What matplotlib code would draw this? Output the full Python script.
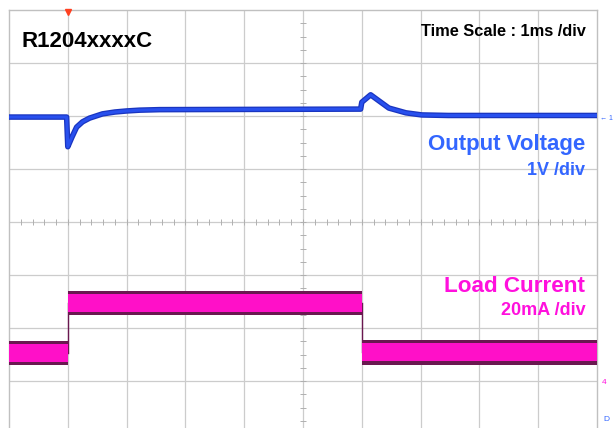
import matplotlib.pyplot as plt
import numpy as np

# Scope screen: 10 x 8 divisions, time in ms (1 ms/div), traces in divisions
# Output voltage trace
volt_t = [0.0, 0.98, 1.0, 1.07, 1.15, 1.25, 1.37, 1.59, 1.80, 2.0, 2.22, 2.56,
          5.98, 6.0, 6.15, 6.46, 6.75, 7.02, 7.47, 10.0]
volt_v = [1.98, 1.98, 1.42, 1.60, 1.79, 1.89, 1.96, 2.04, 2.075, 2.095, 2.11, 2.12,
          2.13, 2.26, 2.40, 2.15, 2.06, 2.02, 2.01, 2.01]

# Load current steps: edges and level per segment (divisions)
cur_edges = [0.0, 1.0, 6.0, 10.0]
cur_level = [-2.47, -1.53, -2.46]
cur_half = 0.23   # half height of noise band
core_half = 0.17

blue_txt = '#3366ff'
mag_txt = '#ff10dd'

plt.rcParams['font.family'] = ['Liberation Sans', 'DejaVu Sans']

fig = plt.figure(figsize=(6.14, 4.28), dpi=100)
ax = fig.add_axes([9 / 614, -6 / 428, 588 / 614, 424 / 428])
ax.set_xlim(0, 10)
ax.set_ylim(-4, 4)

# grid
for gx in range(1, 10):
    ax.axvline(gx, color='#cccccc', lw=0.9, zorder=0)
for gy in range(-3, 4):
    ax.axhline(gy, color='#cccccc', lw=0.9, zorder=0)
for s in ax.spines.values():
    s.set_color('#c0c0c0')
    s.set_linewidth(1.0)
ax.set_xticks([])
ax.set_yticks([])

# minor ticks on the centre cross
mx = np.arange(0, 10.01, 0.2)
my = np.arange(-4, 4.01, 0.25)
ax.plot(mx, np.zeros_like(mx), ls='none', marker='|', ms=4, mew=0.7, color='#b0b0b0', zorder=1)
ax.plot(np.full_like(my, 5.0), my, ls='none', marker='_', ms=4, mew=0.7, color='#b0b0b0', zorder=1)

# output voltage trace
ax.plot(volt_t, volt_v, color='#1a35c0', lw=4.0, solid_joinstyle='round', solid_capstyle='butt', zorder=3)
ax.plot(volt_t, volt_v, color='#2850ee', lw=2.2, solid_joinstyle='round', solid_capstyle='butt', zorder=4)

# load current trace
for i in range(len(cur_level)):
    xs = [cur_edges[i], cur_edges[i + 1]]
    lv = cur_level[i]
    ax.fill_between(xs, lv - cur_half, lv + cur_half, color='#6a1850', lw=0, zorder=3)
    ax.fill_between(xs, lv - core_half, lv + core_half, color='#ff10c8', lw=0, zorder=4)
for i in range(1, len(cur_level)):
    ax.plot([cur_edges[i], cur_edges[i]], [cur_level[i - 1], cur_level[i]],
            color='#6a1850', lw=1.0, zorder=3)

# trigger marker and channel markers
ax.plot([1.0], [3.97], marker='v', ms=5, color='#ff4020', clip_on=False, zorder=5)
ax.text(10.05, volt_v[-1] - 0.05, '← 1', color=blue_txt, fontsize=5, va='center', ha='left', clip_on=False)
ax.text(10.08, -3.03, '4', color=mag_txt, fontsize=6, va='center', ha='left', clip_on=False)
ax.text(10.1, -3.72, 'D', color=blue_txt, fontsize=6, va='center', ha='left', clip_on=False)

# labels
ax.text(0.22, 3.4, 'R1204xxxxC', fontsize=16, fontweight='bold', color='black', va='center', ha='left')
ax.text(9.81, 3.51, 'Time Scale : 1ms /div', fontsize=11.8, fontweight='bold', color='black', va='baseline', ha='right')
ax.text(9.80, 1.36, 'Output Voltage', fontsize=16, fontweight='bold', color=blue_txt, va='baseline', ha='right')
ax.text(9.80, 0.89, '1V /div', fontsize=13, fontweight='bold', color=blue_txt, va='baseline', ha='right')
ax.text(9.80, -1.32, 'Load Current', fontsize=16.2, fontweight='bold', color=mag_txt, va='baseline', ha='right')
ax.text(9.80, -1.76, '20mA /div', fontsize=13, fontweight='bold', color=mag_txt, va='baseline', ha='right')

fig.savefig('out.png', dpi=100)
